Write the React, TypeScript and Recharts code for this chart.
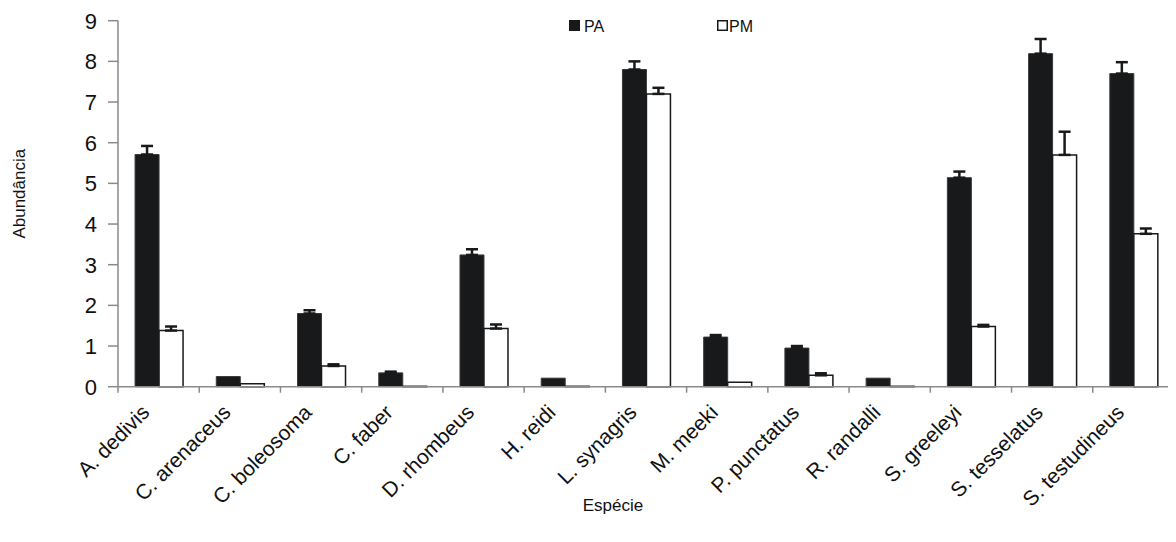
import React from 'react';
import { BarChart, Bar, XAxis, YAxis, ErrorBar, Legend } from 'recharts';

const species = [
  'A. dedivis', 'C. arenaceus', 'C. boleosoma', 'C. faber', 'D. rhombeus', 'H. reidi',
  'L. synagris', 'M. meeki', 'P. punctatus', 'R. randalli', 'S. greeleyi', 'S. tesselatus', 'S. testudineus',
];
const paValues = [5.71, 0.25, 1.8, 0.34, 3.24, 0.21, 7.8, 1.22, 0.95, 0.21, 5.14, 8.19, 7.7];
const paErrors = [0.21, 0, 0.08, 0.03, 0.14, 0, 0.2, 0.05, 0.05, 0, 0.15, 0.36, 0.28];
const pmValues = [1.38, 0.07, 0.51, 0.01, 1.43, 0.01, 7.2, 0.11, 0.28, 0.01, 1.48, 5.7, 3.76];
const pmErrors = [0.1, 0, 0.04, 0, 0.1, 0, 0.15, 0, 0.05, 0, 0.04, 0.57, 0.13];
const yTicks = [0, 1, 2, 3, 4, 5, 6, 7, 8, 9];

const FONT = "'Liberation Sans', Arial, sans-serif";
const AXIS = '#8a8a8a';
const INK = '#18191a';

// upward-only error bars: [below, above]
const data = species.map((name, i) => ({
  name,
  PA: paValues[i],
  PM: pmValues[i],
  paErr: paErrors[i] > 0 ? [0, paErrors[i]] : null,
  pmErr: pmErrors[i] > 0 ? [0, pmErrors[i]] : null,
}));

const SpeciesTick = (props: any) => {
  const { x, y, payload, index } = props;
  const half = payload?.offset ?? 0;
  const last = index === species.length - 1;
  const ax = x - 8;
  const ay = y + 27;
  return (
    <g>
      <line x1={x - half} y1={y} x2={x - half} y2={y + 6} stroke={AXIS} strokeWidth={1.5} />
      {last && <line x1={x + half} y1={y} x2={x + half} y2={y + 6} stroke={AXIS} strokeWidth={1.5} />}
      <text
        x={ax}
        y={ay}
        textAnchor="end"
        fontFamily={FONT}
        fontSize={21}
        fill="#111"
        transform={`rotate(-45 ${ax} ${ay})`}
      >
        {payload.value}
      </text>
    </g>
  );
};

const LegendBox = () => (
  <svg width={200} height={24}>
    <rect x={1} y={3} width={11} height={11} fill={INK} />
    <text x={16} y={15} fontFamily={FONT} fontSize={16} fill="#111">PA</text>
    <rect x={149.75} y={3.75} width={9.5} height={9.5} fill="#fff" stroke={INK} strokeWidth={1.5} />
    <text x={161} y={15} fontFamily={FONT} fontSize={16} fill="#111">PM</text>
  </svg>
);

export default function App() {
  return (
    <BarChart
      width={1168}
      height={534}
      data={data}
      margin={{ top: 12.7, right: 2, bottom: 0, left: 0 }}
      barCategoryGap="21%"
      barGap={0}
    >
      <XAxis
        dataKey="name"
        height={155.3}
        interval={0}
        tickSize={0}
        tickMargin={0}
        tickLine={false}
        axisLine={{ stroke: AXIS, strokeWidth: 1.5 }}
        tick={<SpeciesTick />}
        label={{
          content: (p: any) => (
            <text
              x={p.viewBox.x + p.viewBox.width / 2 - 33}
              y={p.viewBox.y + 124}
              textAnchor="middle"
              fontFamily={FONT}
              fontSize={17}
              fill="#111"
            >
              Espécie
            </text>
          ),
        }}
      />
      <YAxis
        width={110}
        domain={[0, 9]}
        ticks={yTicks}
        interval={0}
        tickSize={10}
        tickMargin={11}
        axisLine={{ stroke: AXIS, strokeWidth: 1.5 }}
        tickLine={{ stroke: AXIS, strokeWidth: 1.5 }}
        tick={{ fontFamily: FONT, fontSize: 22, fill: '#111' }}
        label={{
          content: (p: any) => {
            const cx = p.viewBox.x + 12;
            const cy = p.viewBox.y + p.viewBox.height / 2 - 10;
            return (
              <text
                x={cx}
                y={cy}
                textAnchor="middle"
                dominantBaseline="central"
                fontFamily={FONT}
                fontSize={17}
                fill="#111"
                transform={`rotate(-90 ${cx} ${cy})`}
              >
                Abundância
              </text>
            );
          },
        }}
      />
      <Legend
        layout="horizontal"
        verticalAlign="middle"
        content={<LegendBox />}
        wrapperStyle={{ top: 9, left: 560, width: 200, height: 24 }}
      />
      <Bar dataKey="PA" fill={INK} stroke="#3a3a3a" strokeWidth={1} isAnimationActive={false}>
        <ErrorBar dataKey="paErr" direction="y" width={6} stroke={INK} strokeWidth={2.5} />
      </Bar>
      <Bar dataKey="PM" fill="#fff" stroke={INK} strokeWidth={1.5} isAnimationActive={false}>
        <ErrorBar dataKey="pmErr" direction="y" width={6} stroke={INK} strokeWidth={2.5} />
      </Bar>
    </BarChart>
  );
}
